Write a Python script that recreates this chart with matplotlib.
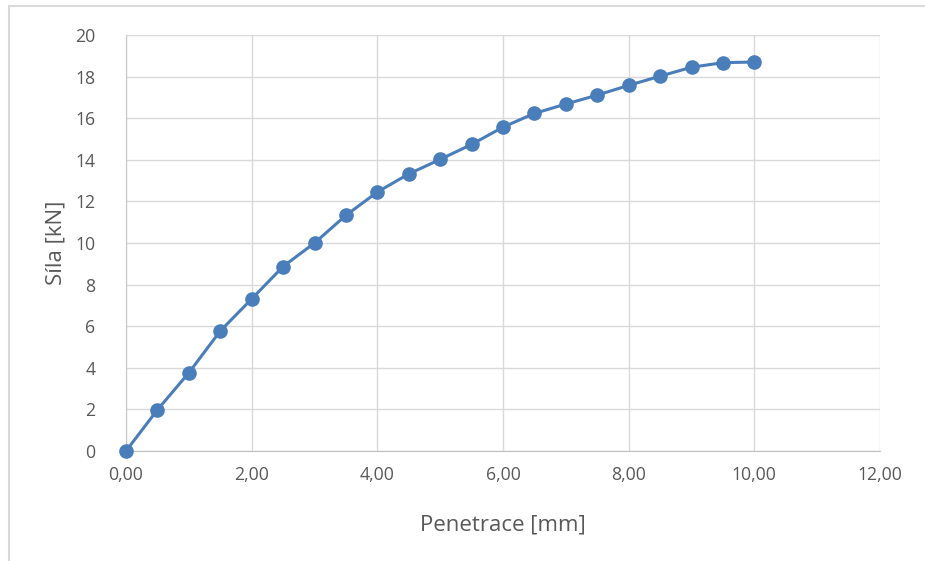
import matplotlib.pyplot as plt
from matplotlib.patches import Rectangle
from matplotlib.ticker import FuncFormatter

plt.rcParams['font.family'] = ['Open Sans', 'DejaVu Sans']

# Penetration [mm] and force [kN]
penetrace = [0.0, 0.5, 1.0, 1.5, 2.0, 2.5, 3.0, 3.5, 4.0, 4.5, 5.0,
             5.5, 6.0, 6.5, 7.0, 7.5, 8.0, 8.5, 9.0, 9.5, 10.0]
sila = [0.0, 1.98, 3.76, 5.77, 7.31, 8.87, 10.0, 11.33, 12.45, 13.32, 14.02,
        14.74, 15.57, 16.23, 16.68, 17.11, 17.58, 18.02, 18.45, 18.67, 18.70]

xticks = [0, 2, 4, 6, 8, 10, 12]
yticks = [0, 2, 4, 6, 8, 10, 12, 14, 16, 18, 20]

W, H = 925, 561
fig = plt.figure(figsize=(W / 100, H / 100), dpi=100)
ax = fig.add_axes([126 / W, 1 - 451 / H, (880 - 126) / W, (451 - 35) / H])

# chart frame (cropped on the right and bottom in the original)
fig.patches.append(Rectangle((9 / W, -0.1), 1.2, 1 - 6 / H + 0.1,
                             transform=fig.transFigure, fill=False,
                             edgecolor='#d9d9d9', linewidth=1.5))

ax.plot(penetrace, sila, color='#4a7ebb', linewidth=2.2, marker='o',
        markersize=9.5, zorder=3, clip_on=False)

ax.set_xlim(0, 12)
ax.set_ylim(0, 20)
ax.set_xticks(xticks)
ax.set_yticks(yticks)
ax.xaxis.set_major_formatter(FuncFormatter(lambda v, p: f"{v:.2f}".replace('.', ',')))
ax.yaxis.set_major_formatter(FuncFormatter(lambda v, p: f"{v:g}"))
ax.grid(True, color='#d9d9d9', linewidth=1.0)
ax.set_axisbelow(True)
for s in ['top', 'right']:
    ax.spines[s].set_visible(False)
ax.spines['bottom'].set_color('#bfbfbf')
ax.spines['left'].set_color('#c8c8c8')
ax.tick_params(length=0, labelsize=12.7, colors='#595959')
ax.tick_params(axis='y', pad=22)
ax.tick_params(axis='x', pad=11)

ax.set_xlabel('Penetrace [mm]', fontsize=16, color='#595959', labelpad=22)
ax.set_ylabel('Síla [kN]', fontsize=16, color='#595959', labelpad=6)

fig.savefig('out.png', dpi=100)
